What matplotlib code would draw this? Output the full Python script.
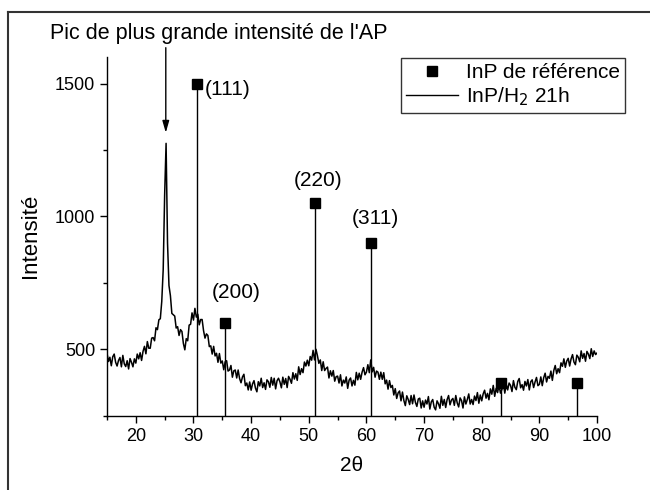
import matplotlib
matplotlib.use('Agg')
import matplotlib.pyplot as plt
from matplotlib.lines import Line2D
from matplotlib.ticker import MultipleLocator
import numpy as np

plt.rcParams['font.family'] = ['Liberation Sans', 'DejaVu Sans']

# diffractogram InP/H2 21h, pas de 0.25 deg de 15 a 100
two_theta_start = 15.0
two_theta_step = 0.25
intensite = [
    486, 454, 470, 438, 472, 482, 451, 437, 458, 469, 434, 477, 445, 435, 457, 426, 465, 451, 434, 464,
    448, 482, 464, 487, 458, 492, 511, 483, 529, 504, 504, 542, 544, 532, 581, 574, 611, 615, 680, 800,
    1080, 1275, 900, 740, 702, 635, 630, 625, 580, 585, 552, 574, 567, 522, 498, 540, 532, 591, 594, 637,
    610, 654, 621, 632, 592, 612, 612, 570, 542, 558, 552, 510, 513, 482, 511, 475, 485, 451, 484, 448,
    456, 423, 453, 457, 418, 422, 439, 395, 419, 422, 392, 422, 390, 374, 396, 406, 363, 373, 347, 377,
    346, 370, 382, 354, 340, 378, 362, 391, 356, 374, 349, 385, 378, 357, 394, 365, 391, 351, 382, 391,
    377, 355, 395, 368, 390, 356, 398, 387, 372, 412, 388, 408, 383, 434, 405, 427, 412, 452, 437, 459,
    438, 473, 459, 496, 460, 500, 476, 447, 460, 420, 453, 420, 428, 433, 392, 419, 399, 420, 380, 397,
    399, 373, 404, 362, 384, 373, 396, 353, 384, 392, 362, 383, 365, 413, 385, 410, 387, 414, 431, 404,
    414, 442, 412, 460, 415, 432, 395, 418, 414, 387, 414, 387, 412, 370, 384, 350, 382, 356, 364, 328,
    352, 315, 336, 343, 306, 339, 307, 288, 325, 311, 292, 326, 295, 328, 300, 285, 313, 316, 279, 306,
    282, 309, 294, 322, 275, 302, 311, 282, 272, 306, 295, 278, 323, 289, 311, 281, 311, 326, 291, 309,
    315, 289, 326, 298, 283, 317, 307, 279, 321, 294, 311, 332, 294, 311, 292, 324, 307, 337, 297, 328,
    306, 332, 346, 316, 334, 310, 351, 331, 364, 323, 353, 337, 365, 335, 349, 375, 335, 368, 347, 373,
    364, 341, 382, 357, 348, 379, 390, 355, 367, 346, 379, 362, 386, 347, 378, 385, 356, 377, 394, 363,
    368, 396, 363, 393, 410, 377, 398, 391, 418, 383, 420, 439, 408, 427, 412, 449, 436, 464, 432, 456,
    466, 437, 464, 480, 452, 442, 478, 470, 453, 494, 466, 484, 455, 492, 482, 465, 502, 473, 494, 480,
    486,
]
two_theta = two_theta_start + two_theta_step * np.arange(len(intensite))

# raies de reference InP
ref_pos = [30.6, 35.45, 51.15, 60.8, 83.3, 96.5]
ref_int = [1500, 600, 1050, 900, 375, 375]
hkl_labels = ['(111)', '(200)', '(220)', '(311)']
hkl_xy = [(32.0, 1479), (37.4, 714), (51.6, 1134), (61.6, 991)]

ymin = 250

fig = plt.figure(figsize=(6.5, 4.9), dpi=100)
ax = fig.add_axes([0.1646, 0.1516, 0.7539, 0.7321])

ax.plot(two_theta, intensite, color='k', lw=1.1)
ax.vlines(ref_pos, ymin, ref_int, color='k', lw=1)
ax.plot(ref_pos, ref_int, 's', color='k', ms=7, clip_on=False)

for lab, (xx, yy) in zip(hkl_labels, hkl_xy):
    ha = 'left' if lab == '(111)' else 'center'
    ax.text(xx, yy, lab, fontsize=15, ha=ha, va='center')

# fleche vers le pic le plus intense
ax.annotate('', xy=(25.2, 1315), xytext=(25.2, 1635),
            arrowprops=dict(arrowstyle='-|>,head_length=0.7,head_width=0.2',
                            color='k', lw=1, shrinkA=0, shrinkB=0),
            annotation_clip=False)
fig.text(50 / 650, 1 - 33 / 490, "Pic de plus grande intensité de l'AP",
         fontsize=15.5, ha='left', va='center')

ax.set_xlim(15, 100)
ax.set_ylim(ymin, 1600)
ax.xaxis.set_major_locator(MultipleLocator(10))
ax.xaxis.set_minor_locator(MultipleLocator(5))
ax.yaxis.set_major_locator(MultipleLocator(500))
ax.yaxis.set_minor_locator(MultipleLocator(250))
ax.tick_params(which='major', direction='out', length=5, width=1, labelsize=13)
ax.tick_params(which='minor', direction='out', length=3, width=1)
for s in ['top', 'right']:
    ax.spines[s].set_visible(False)
for s in ['left', 'bottom']:
    ax.spines[s].set_linewidth(1)

ax.set_xlabel('2θ', fontsize=15, labelpad=8)
ax.set_ylabel('Intensité', fontsize=16, labelpad=10)

handles = [Line2D([], [], marker='s', ls='none', color='k', ms=7),
           Line2D([], [], color='k', lw=1)]
leg = fig.legend(handles, ['InP de référence', r'InP/H$_2$ 21h'],
                 loc='upper right', bbox_to_anchor=(625 / 650, 1 - 58 / 490),
                 fontsize=15, frameon=True, fancybox=False, borderaxespad=0,
                 handlelength=2.5, handletextpad=0.35, borderpad=0.25,
                 labelspacing=0.15)
leg.get_frame().set_edgecolor('k')
leg.get_frame().set_linewidth(1)

# cadre exterieur
fig.add_artist(Line2D([8 / 650, 1], [1 - 12 / 490, 1 - 12 / 490], color='#333333', lw=1.5))
fig.add_artist(Line2D([8 / 650, 8 / 650], [0, 1 - 12 / 490], color='#333333', lw=1.5))

fig.savefig('out.png', dpi=100)
